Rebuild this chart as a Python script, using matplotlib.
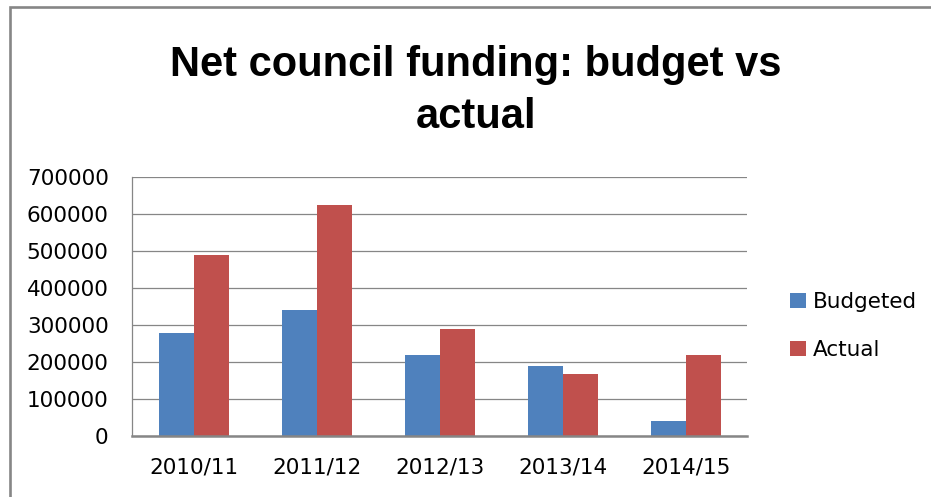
import numpy as np
import matplotlib
matplotlib.use("Agg")
import matplotlib.pyplot as plt
from matplotlib.patches import Rectangle

# ---------- data ----------
years = ["2010/11", "2011/12", "2012/13", "2013/14", "2014/15"]
budgeted = [278000, 340000, 218000, 188000, 40000]
actual = [490000, 625000, 289000, 167000, 218000]
y_ticks = [0, 100000, 200000, 300000, 400000, 500000, 600000, 700000]

blue = "#4F81BD"
red = "#C0504D"
grey = "#868686"

fig = plt.figure(figsize=(9.31, 4.97), dpi=100)
ax = fig.add_axes([0.1421, 0.1233, 0.8029 - 0.1421, 0.6433 - 0.1233])

x = np.arange(len(years))
w = 0.2857
b1 = ax.bar(x - w / 2, budgeted, w, color=blue, label="Budgeted", zorder=3)
b2 = ax.bar(x + w / 2, actual, w, color=red, label="Actual", zorder=3)

ax.set_xlim(-0.5, len(years) - 0.5)
ax.set_ylim(0, 700000)
ax.set_yticks(y_ticks)
ax.set_yticklabels([str(v) for v in y_ticks])
ax.set_xticks(x)
ax.set_xticklabels(years)
ax.tick_params(axis="both", length=0, labelsize=15.5, colors="#000000")
ax.tick_params(axis="x", pad=16)
ax.tick_params(axis="y", pad=17)

ax.grid(axis="y", color=grey, linewidth=0.9, zorder=0)
ax.set_axisbelow(True)
for s in ["top", "right"]:
    ax.spines[s].set_visible(False)
ax.spines["left"].set_color(grey)
ax.spines["left"].set_linewidth(0.9)
ax.spines["bottom"].set_color(grey)
ax.spines["bottom"].set_linewidth(1.8)
ax.spines["bottom"].set_zorder(4)

# title (two lines, bold)
fig.text(0.511, 0.817, "Net council funding: budget vs\nactual",
         ha="center", va="center", fontsize=30, fontweight="bold",
         family=["Liberation Sans Narrow", "Liberation Sans", "DejaVu Sans"],
         linespacing=1.38)

# legend to the right of the plot
fig.legend(handles=[b1, b2], labels=["Budgeted", "Actual"],
           loc="center left", bbox_to_anchor=(0.8486, 0.344),
           frameon=False, fontsize=15.5, borderpad=0, borderaxespad=0,
           handlelength=0.74, handleheight=0.74, handletextpad=0.3,
           labelspacing=1.3)

# outer chart-area frame (only left and top edges show)
fig.patches.append(Rectangle((9.5 / 931, -0.1), 1.2, (497 - 6.5) / 497 + 0.1,
                             transform=fig.transFigure, fill=False,
                             edgecolor=grey, linewidth=1.9))

fig.savefig("out.png", dpi=100)
